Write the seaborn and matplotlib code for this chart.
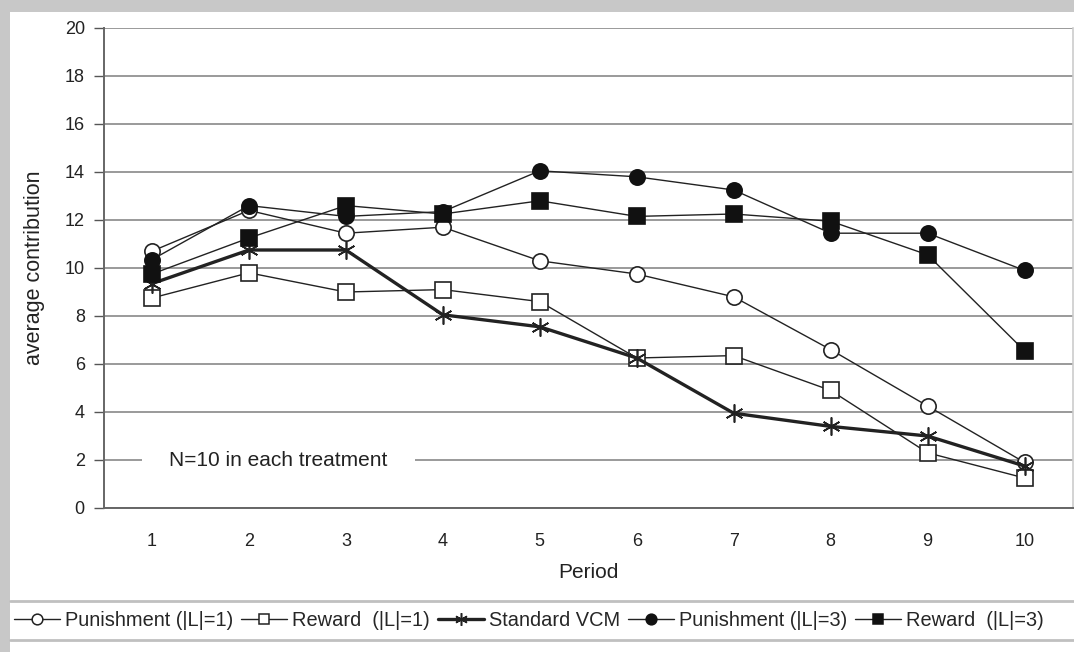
import matplotlib
matplotlib.use("Agg")
import matplotlib.pyplot as plt
from matplotlib.lines import Line2D
from matplotlib.patches import Rectangle
import seaborn as sns
import pandas as pd
import numpy as np

periods = [1, 2, 3, 4, 5, 6, 7, 8, 9, 10]
punish_l1 = [10.7, 12.4, 11.45, 11.7, 10.3, 9.75, 8.8, 6.6, 4.25, 1.9]
reward_l1 = [8.75, 9.8, 9.0, 9.1, 8.6, 6.25, 6.35, 4.9, 2.3, 1.25]
standard_vcm = [9.35, 10.75, 10.75, 8.05, 7.55, 6.25, 3.95, 3.4, 3.0, 1.75]
punish_l3 = [10.35, 12.6, 12.15, 12.35, 14.05, 13.8, 13.25, 11.45, 11.45, 9.9]
reward_l3 = [9.75, 11.25, 12.6, 12.25, 12.8, 12.15, 12.25, 11.95, 10.55, 6.55]

labels = ["Punishment (|L|=1)", "Reward  (|L|=1)", "Standard VCM",
          "Punishment (|L|=3)", "Reward  (|L|=3)"]
series = [punish_l1, reward_l1, standard_vcm, punish_l3, reward_l3]

sns.set_theme(style="white")
plt.rcParams['font.family'] = ['Liberation Sans', 'DejaVu Sans']

fig = plt.figure(figsize=(10.74, 6.52), dpi=100)
# outer gray frame
fig.patch.set_facecolor('#c8c8c8')
fig.add_artist(Rectangle((10/1074, 0), 1, 1 - 12/652, transform=fig.transFigure,
                         facecolor='white', edgecolor='none', zorder=0))

ax = fig.add_axes([103.5/1074, 1 - 508/652, (1073 - 103.5)/1074, 480/652])
ax.set_facecolor('white')

styles = [
    dict(marker='o', mfc='white', mec='#222222', lw=1.0, ms=11),
    dict(marker='s', mfc='white', mec='#222222', lw=1.0, ms=11),
    dict(marker=(6, 2, 0), mfc='#222222', mec='#222222', lw=2.4, ms=13),
    dict(marker='o', mfc='#111111', mec='#111111', lw=1.0, ms=11),
    dict(marker='s', mfc='#111111', mec='#111111', lw=1.0, ms=11),
]

handles = []
for vals, lab, st in zip(series, labels, styles):
    df = pd.DataFrame({"Period": periods, "value": vals})
    sns.lineplot(data=df, x="Period", y="value", ax=ax, color='#222222',
                 linewidth=st['lw'], marker=st['marker'], markersize=st['ms'],
                 markerfacecolor=st['mfc'], markeredgecolor=st['mec'],
                 markeredgewidth=1.2, zorder=3, legend=False)
    handles.append(Line2D([0], [0], color='#222222', lw=st['lw'], marker=st['marker'],
                          ms=st['ms'] * 0.7, mfc=st['mfc'], mec=st['mec'], mew=1.1))

ax.set_xlim(0.5, 10.5)
ax.set_ylim(0, 20)
ax.set_yticks(np.arange(0, 21, 2))
ax.set_xticks(periods)
ax.set_xticks(np.arange(1.5, 10.5, 1), minor=True)
ax.tick_params(axis='x', which='major', length=0, pad=18, labelsize=13, colors='#222222')
ax.tick_params(axis='x', which='minor', length=7, width=1, color='#555555', direction='out')
ax.tick_params(axis='y', which='major', length=7, width=1, color='#555555', direction='out',
               labelsize=13, colors='#222222', left=True, pad=6.5)
ax.yaxis.grid(True, color='#9a9a9a', lw=1.4, zorder=0)
ax.xaxis.grid(False)
ax.spines['top'].set_visible(False)
ax.spines['right'].set_color('#cccccc')
ax.spines['right'].set_linewidth(1.2)
for side in ['left', 'bottom']:
    ax.spines[side].set_color('#666666')
    ax.spines[side].set_linewidth(1.4)

ax.set_xlabel("Period", fontsize=15, color='#222222', labelpad=9)
ax.set_ylabel("average contribution", fontsize=15.5, color='#222222', labelpad=14)

ax.text(1.18, 2, "N=10 in each treatment", fontsize=15, color='#222222', va='center', ha='left',
        bbox=dict(boxstyle='square,pad=1.3', facecolor='white', edgecolor='none'), zorder=2)

# legend band
fig.add_artist(Line2D([10/1074, 1], [1 - 601/652, 1 - 601/652], color='#c0c0c0', lw=2,
                      transform=fig.transFigure))
fig.add_artist(Line2D([10/1074, 1], [1 - 640/652, 1 - 640/652], color='#c0c0c0', lw=2,
                      transform=fig.transFigure))
fig.legend(handles, labels, loc='center left', bbox_to_anchor=(14/1074, 1 - 620/652),
           ncol=5, frameon=False, fontsize=14.4, handlelength=2.3, handletextpad=0.25,
           columnspacing=0.4, borderaxespad=0, borderpad=0)

fig.savefig("out.png", dpi=100, facecolor=fig.get_facecolor())
